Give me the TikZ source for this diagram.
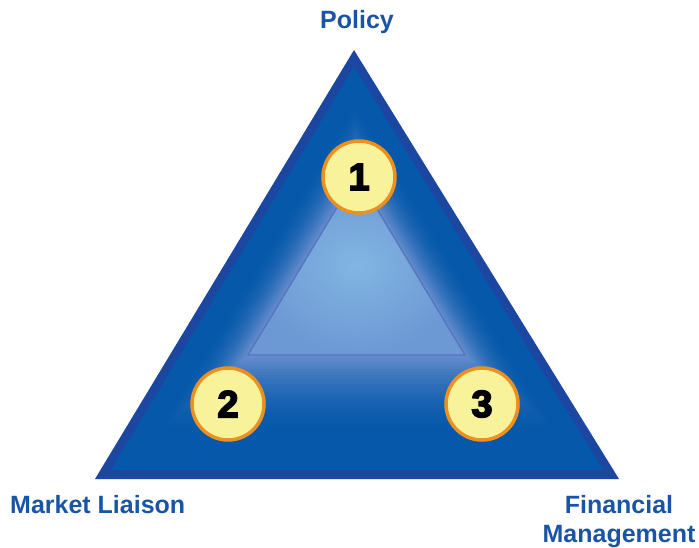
\documentclass[tikz,border=0pt]{standalone}
\usepackage{fontspec}
\setmainfont{Liberation Sans}
\newfontfamily\digitfont[BoldFeatures={FakeBold=4}]{Liberation Sans}
\usetikzlibrary{calc}
\definecolor{edgeblue}{HTML}{1B47A0}
\definecolor{fillblue}{HTML}{0558AA}
\definecolor{bandtop}{HTML}{6A8FCF}
\definecolor{lightin}{HTML}{82B5E3}
\definecolor{lightout}{HTML}{6C98D3}
\definecolor{lightedge}{HTML}{5674C0}
\definecolor{labelblue}{HTML}{1A55A5}
\definecolor{circfill}{HTML}{F8F39B}
\definecolor{circedge}{HTML}{EE9020}
\tikzset{
  numcirc/.style={circle,draw=circedge,fill=circfill,line width=3.5pt,minimum size=72pt,inner sep=0pt,font=\digitfont\fontsize{38}{38}\selectfont\bfseries},
  lbl/.style={text=labelblue,font=\fontsize{25}{29}\selectfont\bfseries,align=center,inner sep=0pt}
}
\begin{document}
\begin{tikzpicture}[x=1pt,y=-1pt]
\useasboundingbox (0,0) rectangle (699,547);
% outer triangle
\fill[edgeblue] (354,50) -- (619,479) -- (95,479) -- cycle;
% dark inner and light triangles
\coordinate (A0) at (354,67);
\coordinate (B0) at (603,470);
\coordinate (C0) at (111,470);
\coordinate (A1) at (356.5,175);
\coordinate (B1) at (465,355);
\coordinate (C1) at (248,355);
\fill[fillblue] (A0) -- (B0) -- (C0) -- cycle;
% blend from dark to light
\foreach \i in {0,...,40} {
  \pgfmathsetmacro{\t}{\i/40}
  \pgfmathsetmacro{\p}{100*max(0,(\t-0.3)/0.7)^1.8}
  \fill[bandtop!\p!fillblue]
    ($(A0)!\t!(A1)$) -- ($(B0)!\t!(B1)$) -- ($(C0)!\t!(C1)$) -- cycle;
}
% light inner triangle
\shade[inner color=lightin,outer color=lightout,draw=lightedge,line width=1.4pt]
  (A1) -- (B1) -- (C1) -- cycle;
% circles
\node[numcirc] (c1) at (359,177) {1};
\node[numcirc] (c2) at (228,404) {2};
\node[numcirc] (c3) at (482,404) {3};
% labels
\node[lbl] (policy) at (357,22) {Policy};
\node[lbl,anchor=west] (market) at (10,505) {Market Liaison};
\node[lbl] (fin) at (619,522) {Financial\\Management};
\end{tikzpicture}
\end{document}
